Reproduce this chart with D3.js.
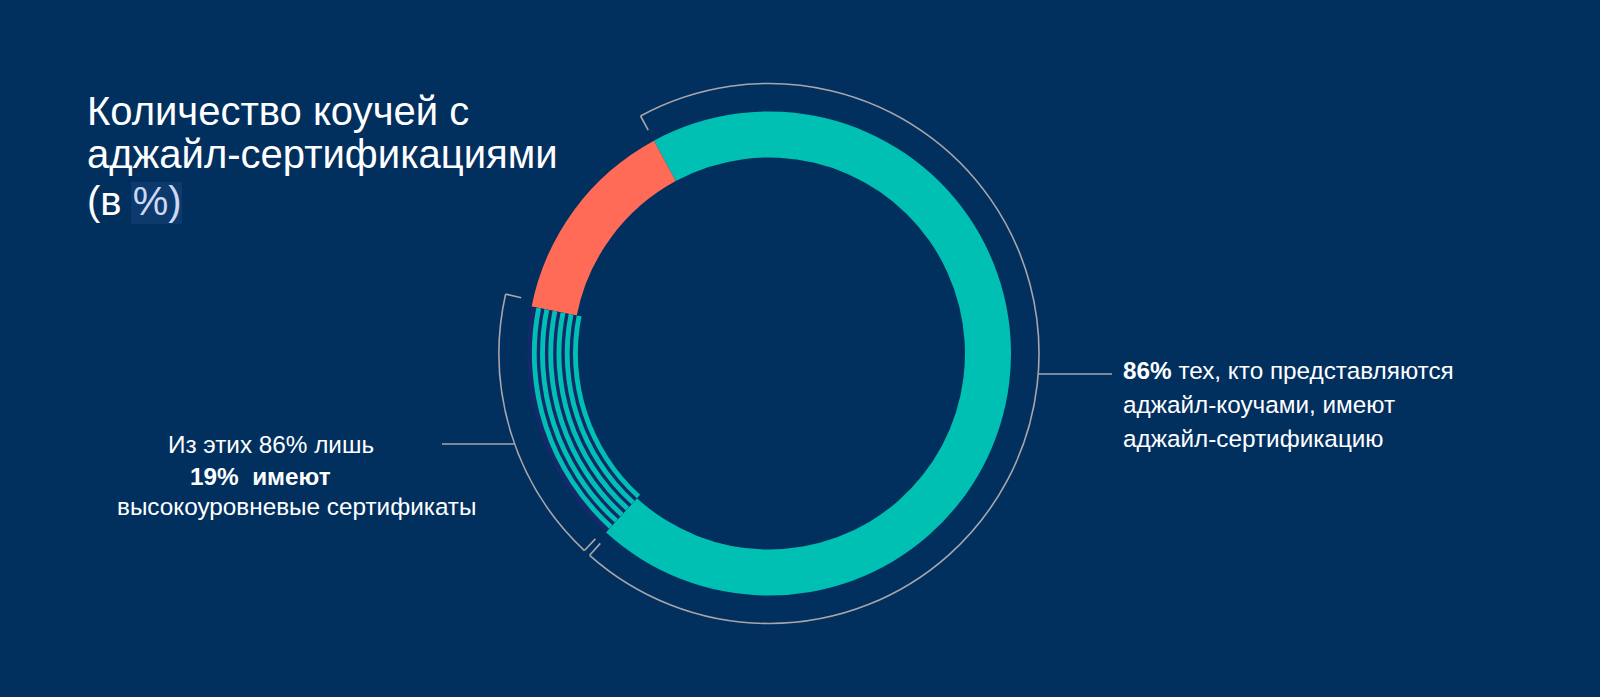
<!DOCTYPE html>
<html><head><meta charset="utf-8">
<script src="https://cdn.jsdelivr.net/npm/d3@7"></script>
<style>
html,body{margin:0;padding:0;background:#01305f;}
svg{display:block;}
text{font-family:"Liberation Sans", Arial, sans-serif;}
</style>
</head><body>
<svg id="chart" width="1600" height="697"></svg>
<script>
// ---- data ----
const categories = ["С аджайл-сертификацией", "Без аджайл-сертификации"];
const shares = [86, 14];                 // % of coaches
const highLevelShare = 19;               // % of certified with high-level certificates
const titleLines = ["Количество коучей с", "аджайл-сертификациями", "(в ", "%)"];
const rightNote = [
  [{t:"86%", b:true}, {t:" тех, кто представляются", b:false}],
  [{t:"аджайл-коучами, имеют", b:false}],
  [{t:"аджайл-сертификацию", b:false}]
];
const leftNote = [
  [{t:"Из этих 86% лишь", b:false}],
  [{t:"19%  имеют", b:true}],
  [{t:"высокоуровневые сертификаты", b:false}]
];

// ---- style / layout ----
const W = 1600, H = 697;
const C = {bg:"#01305f", teal:"#00bfb3", coral:"#ff6b57", gap:"#13296a", line:"#a8a6ab", text:"#ffffff"};
const cx = 769, cy = 353.5, rOuter = 242, rInner = 196, rBracket = 270, tickLen = 16;
const deg = Math.PI/180;
const startAngle = -28.4*deg;

const svg = d3.select("#chart");
svg.append("rect").attr("width", W).attr("height", H).attr("fill", C.bg);

// angle scale: cumulative percent -> angle
const ang = d3.scaleLinear().domain([0, 100]).range([startAngle, startAngle + 2*Math.PI]);

const pie = d3.pie().sort(null).value(d => d)
  .startAngle(ang(0)).endAngle(ang(100));
const arcs = pie(shares);

const g = svg.append("g").attr("transform", `translate(${cx},${cy})`);
const arcGen = d3.arc().innerRadius(rInner).outerRadius(rOuter);

// certified split: solid teal part and striped (high-level) part
const cert = arcs[0];
const splitAngle = cert.endAngle - (cert.endAngle - cert.startAngle) * highLevelShare/100;

g.append("path").attr("d", arcGen({startAngle: cert.startAngle, endAngle: splitAngle})).attr("fill", C.teal);
g.append("path").attr("d", arcGen(arcs[1])).attr("fill", C.coral);

// striped part
g.append("path").attr("d", arcGen({startAngle: splitAngle, endAngle: cert.endAngle})).attr("fill", C.gap);
const nStripes = 6;
const band = d3.scaleBand().domain(d3.range(nStripes)).range([rOuter, rInner]).paddingInner(0.41).paddingOuter(0);
d3.range(nStripes).forEach(i => {
  const r0 = band(i), r1 = band(i) - band.bandwidth();
  g.append("path")
    .attr("d", d3.arc().innerRadius(r1).outerRadius(r0)({startAngle: splitAngle, endAngle: cert.endAngle}))
    .attr("fill", C.teal);
});

// brackets
const pt = (a, r) => [Math.sin(a)*r, -Math.cos(a)*r];
function bracket(a0, a1) {
  const arcLine = d3.arc().innerRadius(rBracket).outerRadius(rBracket);
  g.append("path")
    .attr("d", arcLine({startAngle:a0, endAngle:a1}))
    .attr("fill", "none").attr("stroke", C.line).attr("stroke-width", 1.6);
  [a0, a1].forEach(a => {
    const p0 = pt(a, rBracket), p1 = pt(a, rBracket - tickLen);
    g.append("line").attr("x1", p0[0]).attr("y1", p0[1]).attr("x2", p1[0]).attr("y2", p1[1])
      .attr("stroke", C.line).attr("stroke-width", 1.6);
  });
}
const gapA = 0.75*deg;
bracket(cert.startAngle, splitAngle - gapA);          // solid certified part
bracket(splitAngle + gapA, cert.endAngle + 1.5*deg);  // high-level part

// connectors
const ry = 374 - cy;
const rx = Math.sqrt(rBracket*rBracket - ry*ry);
g.append("line").attr("x1", rx).attr("y1", ry).attr("x2", 1112 - cx).attr("y2", ry)
  .attr("stroke", C.line).attr("stroke-width", 1.6);
const ly = 444 - cy;
const lx = -Math.sqrt(rBracket*rBracket - ly*ly);
g.append("line").attr("x1", lx).attr("y1", ly).attr("x2", 442 - cx).attr("y2", ly)
  .attr("stroke", C.line).attr("stroke-width", 1.6);

// title
svg.append("rect").attr("x", 131).attr("y", 182).attr("width", 51).attr("height", 42).attr("fill", "#0c3a6c");
const title = svg.append("text").attr("fill", C.text).attr("font-size", 40);
title.append("tspan").attr("x", 87).attr("y", 125).text(titleLines[0]);
title.append("tspan").attr("x", 87).attr("y", 168).text(titleLines[1]);
const t3 = title.append("tspan").attr("x", 87).attr("y", 215);
t3.text(titleLines[2]);
title.append("tspan").attr("fill", "#cdd8f2").text(titleLines[3]);

// notes
function note(lines, xs, ys) {
  lines.forEach((line, i) => {
    const t = svg.append("text").attr("x", xs[i]).attr("y", ys[i]).attr("fill", C.text).attr("font-size", 24.3);
    line.forEach(s => t.append("tspan").attr("font-weight", s.b ? "bold" : "normal").style("white-space","pre").text(s.t));
  });
}
note(rightNote, [1123, 1123, 1123], [379, 413, 447]);
note(leftNote, [168, 190, 117], [453, 485, 515]);
</script>
</body></html>
